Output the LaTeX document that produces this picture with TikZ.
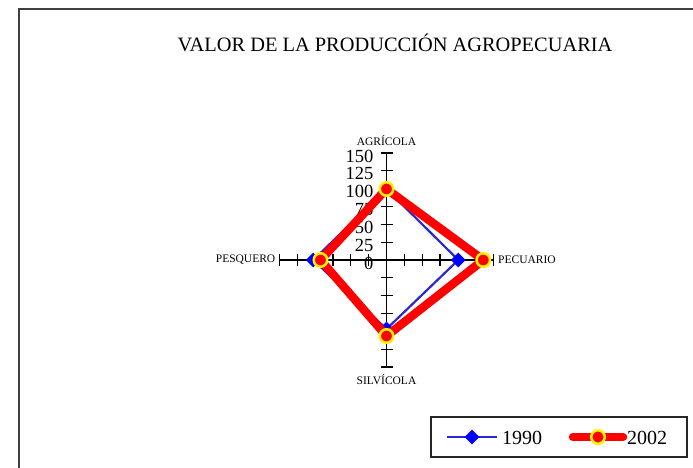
\documentclass[tikz,border=0pt]{standalone}
\usepackage{fontspec}
\setmainfont{Liberation Serif}
\usetikzlibrary{shapes.geometric}
\definecolor{frameg}{HTML}{404040}
\definecolor{lineblue}{HTML}{2A2AC8}
\tikzset{
  frameline/.style={draw=frameg, line width=1.5bp},
  axisline/.style={draw=black, line width=1.3bp},
  tickmark/.style={draw=black, line width=1.1bp},
  numlbl/.style={anchor=east, inner sep=0pt, font=\fontsize{18.5bp}{18.5bp}\selectfont},
  catlbl/.style={inner sep=0pt, font=\fontsize{11.5bp}{11.5bp}\selectfont},
  blueline/.style={draw=lineblue, line width=2.2bp},
  redline/.style={draw=red, line width=8.5bp, line join=miter},
  bluemark/.style={diamond, fill=blue, draw=none, minimum width=15bp, minimum height=15bp, inner sep=0pt},
  redmark/.style={circle, fill=red, draw=yellow, line width=2.5bp, minimum size=13.5bp, inner sep=0pt},
  legtext/.style={anchor=west, inner sep=0pt, font=\fontsize{20bp}{20bp}\selectfont},
}
\begin{document}
\begin{tikzpicture}[x=1bp, y=-1bp]
\useasboundingbox (0,0) rectangle (693,468);
% outer frame (only top and left visible)
\draw[frameline] (19,480) -- (19,9) -- (700,9);
% title
\node[inner sep=0pt, anchor=base, font=\fontsize{20.4bp}{20.4bp}\selectfont] (title) at (395,52) {VALOR DE LA PRODUCCIÓN AGROPECUARIA};
% axes
\coordinate (O) at (386.5,260);
\coordinate (top) at (386.5,153);
\coordinate (bot) at (386.5,367);
\coordinate (lft) at (279.5,260);
\coordinate (rgt) at (493.5,260);
\draw[axisline] (top) -- (bot);
\draw[axisline] (lft) -- (rgt);
\foreach \i in {1,...,6} {
  \draw[tickmark] ([xshift=-6bp, yshift=-\i*17.83bp]O) -- ([xshift=6bp, yshift=-\i*17.83bp]O);
  \draw[tickmark] ([xshift=-6bp, yshift=\i*17.83bp]O) -- ([xshift=6bp, yshift=\i*17.83bp]O);
  \draw[tickmark] ([xshift=-\i*17.83bp, yshift=-6bp]O) -- ([xshift=-\i*17.83bp, yshift=6bp]O);
  \draw[tickmark] ([xshift=\i*17.83bp, yshift=-6bp]O) -- ([xshift=\i*17.83bp, yshift=6bp]O);
}
% scale numbers
\foreach \v/\k in {0/0,25/1,50/2,75/3,100/4,125/5,150/6} {
  \node[numlbl] (n\v) at (373.5,{263-\k*17.83}) {\v};
}
% category labels
\node[catlbl] (agr) at (386.5,141) {AGRÍCOLA};
\node[catlbl] (sil) at (386.5,380) {SILVÍCOLA};
\node[catlbl, anchor=east] (pes) at (275.5,260) {PESQUERO};
\node[catlbl, anchor=west] (pec) at (498,260) {PECUARIO};
% 1990 series
\coordinate (a1) at (386.5,189);
\coordinate (p1) at (458.3,260);
\coordinate (s1) at (386.5,329);
\coordinate (q1) at (313.3,260);
\draw[blueline] (a1) -- (p1) -- (s1) -- (q1) -- cycle;
\foreach \c in {a1,p1,s1,q1} \node[bluemark] (m\c) at (\c) {};
% 2002 series
\coordinate (a2) at (386.5,189);
\coordinate (p2) at (483.3,260);
\coordinate (s2) at (386.5,336);
\coordinate (q2) at (320.5,260);
\draw[redline] (a2) -- (p2) -- (s2) -- (q2) -- cycle;
\foreach \c in {a2,p2,s2,q2} \node[redmark] (m\c) at (\c) {};
% legend
\draw[draw=black!85, line width=1.3bp] (431,417) rectangle (687,457);
\coordinate (lb1) at (447,437);
\coordinate (lb2) at (497,437);
\draw[blueline] (lb1) -- (lb2);
\node[bluemark] (lbm) at (472,437) {};
\node[legtext] (l1990) at (502,438) {1990};
\coordinate (lr1) at (573,437);
\coordinate (lr2) at (623,437);
\draw[redline, line cap=round] (lr1) -- (lr2);
\node[redmark] (lrm) at (598,437) {};
\node[legtext] (l2002) at (627,438) {2002};
\end{tikzpicture}
\end{document}
